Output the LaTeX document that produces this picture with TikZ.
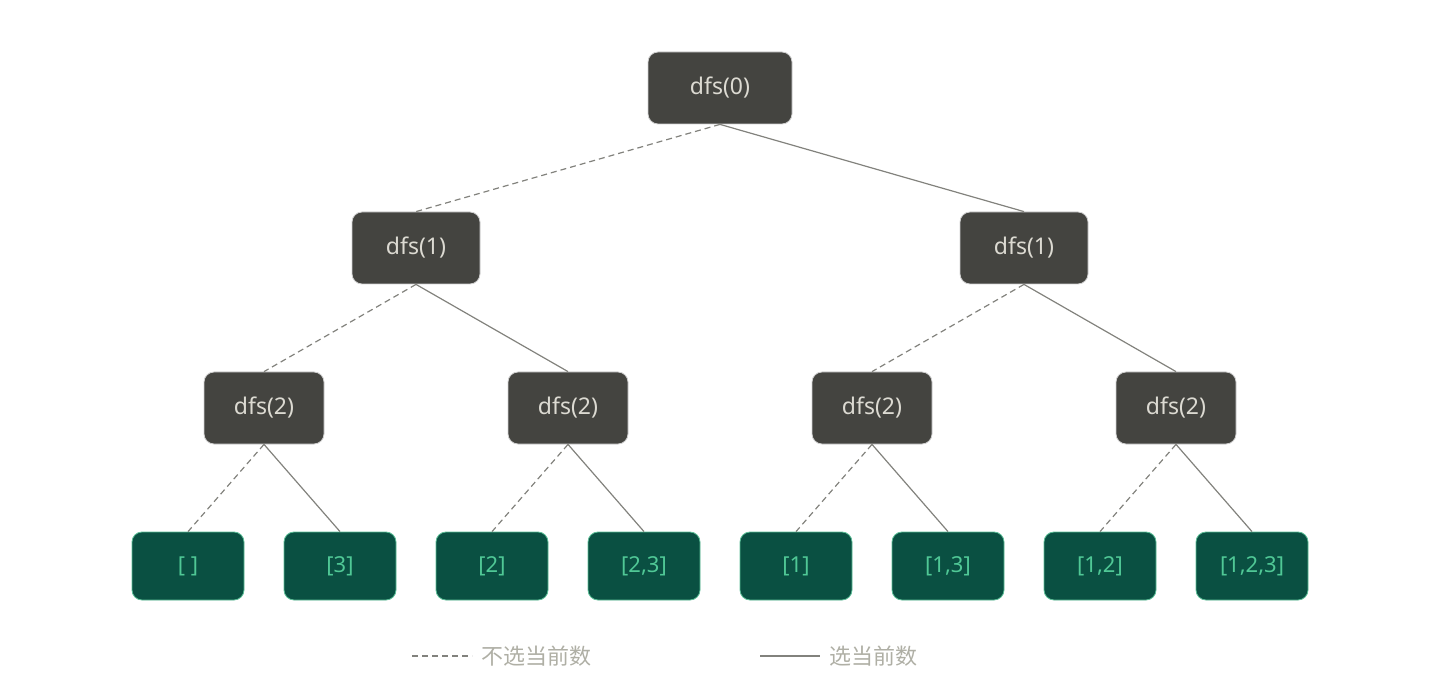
\documentclass[tikz,border=0pt]{standalone}
\usepackage{fontspec}
\setmainfont{Noto Sans}
\newfontfamily\cjk{Noto Sans CJK SC}
\begin{document}
\begin{tikzpicture}[x=1pt,y=-1pt,
  inner/.style={draw=white!70!black!60, line width=0.8pt, fill={rgb,255:red,68;green,68;blue,64}, rounded corners=10pt, minimum height=72pt, text={rgb,255:red,220;green,218;blue,210}, font=\fontsize{23}{26}\selectfont\bfseries},
  leaf/.style={draw={rgb,255:red,90;green,190;blue,150}, line width=0.8pt, fill={rgb,255:red,10;green,80;blue,66}, rounded corners=10pt, minimum width=112pt, minimum height=68pt, text={rgb,255:red,80;green,200;blue,150}, font=\fontsize{22}{26}\selectfont},
  sel/.style={draw={rgb,255:red,130;green,130;blue,125}, line width=1.2pt},
  nsel/.style={sel, dashed, dash pattern=on 6pt off 4pt},
  lg/.style={text={rgb,255:red,175;green,175;blue,165}, font=\cjk\fontsize{22}{26}\selectfont, anchor=west}]
\useasboundingbox (0,0) rectangle (1440,700);
\node[inner, minimum width=144pt] (r) at (720,88) {dfs(0)};
\node[inner, minimum width=128pt] (a) at (416,248) {dfs(1)};
\node[inner, minimum width=128pt] (b) at (1024,248) {dfs(1)};
\node[inner, minimum width=120pt] (a1) at (264,408) {dfs(2)};
\node[inner, minimum width=120pt] (a2) at (568,408) {dfs(2)};
\node[inner, minimum width=120pt] (b1) at (872,408) {dfs(2)};
\node[inner, minimum width=120pt] (b2) at (1176,408) {dfs(2)};
\node[leaf] (l1) at (188,566) {[ ]};
\node[leaf] (l2) at (340,566) {[3]};
\node[leaf] (l3) at (492,566) {[2]};
\node[leaf] (l4) at (644,566) {[2,3]};
\node[leaf] (l5) at (796,566) {[1]};
\node[leaf] (l6) at (948,566) {[1,3]};
\node[leaf] (l7) at (1100,566) {[1,2]};
\node[leaf] (l8) at (1252,566) {[1,2,3]};
\draw[nsel] (r.south) -- (a.north);
\draw[sel] (r.south) -- (b.north);
\draw[nsel] (a.south) -- (a1.north);
\draw[sel] (a.south) -- (a2.north);
\draw[nsel] (b.south) -- (b1.north);
\draw[sel] (b.south) -- (b2.north);
\draw[nsel] (a1.south) -- (l1.north);
\draw[sel] (a1.south) -- (l2.north);
\draw[nsel] (a2.south) -- (l3.north);
\draw[sel] (a2.south) -- (l4.north);
\draw[nsel] (b1.south) -- (l5.north);
\draw[sel] (b1.south) -- (l6.north);
\draw[nsel] (b2.south) -- (l7.north);
\draw[sel] (b2.south) -- (l8.north);
\coordinate (d1) at (412,656); \coordinate (d2) at (472,656);
\coordinate (s1) at (760,656); \coordinate (s2) at (820,656);
\draw[nsel] (d1) -- (d2);
\draw[sel] (s1) -- (s2);
\node[lg] (t1) at (478,656) {不选当前数};
\node[lg] (t2) at (826,656) {选当前数};
\end{tikzpicture}
\end{document}
